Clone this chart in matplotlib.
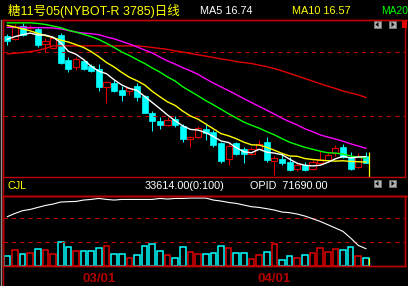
import matplotlib
matplotlib.use('Agg')
import matplotlib.pyplot as plt
from matplotlib.patches import Rectangle, Polygon

W, H = 408, 286

# daily bars, oldest first (price axis of the upper panel)
opens = [20.52, 20.41, 20.82, 20.77, 20.72, 20.26, 20.12, 20.54, 19.76, 19.55, 19.72, 19.57,
         19.47, 18.92, 19.05, 18.82, 18.78, 18.95, 18.63, 18.11, 17.84, 17.72, 17.91, 17.70,
         17.30, 17.34, 17.61, 17.51, 17.16, 16.66, 17.16, 16.97, 16.82, 16.99, 17.20, 16.61,
         16.67, 16.57, 16.34, 16.47, 16.34, 16.55, 16.63, 16.84, 17.05, 16.74, 16.41, 16.76]
closes = [20.36, 20.78, 20.53, 20.79, 20.23, 20.36, 20.44, 19.66, 19.47, 19.78, 19.49, 19.42,
          18.91, 19.07, 18.80, 18.68, 18.88, 18.61, 18.11, 17.86, 17.72, 17.88, 17.74, 17.28,
          17.34, 17.63, 17.47, 17.11, 16.61, 17.07, 16.82, 16.82, 16.99, 17.13, 16.63, 16.70,
          16.53, 16.32, 16.49, 16.32, 16.57, 16.63, 16.80, 17.01, 16.72, 16.36, 16.76, 16.55]
highs = [20.57, 20.88, 20.91, 20.85, 20.79, 20.44, 20.47, 20.60, 19.84, 19.84, 19.79, 19.63,
         19.63, 19.10, 19.13, 18.95, 18.93, 19.03, 18.67, 18.17, 17.99, 17.99, 18.01, 17.76,
         17.38, 17.70, 17.78, 17.57, 17.20, 17.13, 17.20, 17.05, 17.04, 17.26, 17.36, 16.76,
         16.84, 16.74, 16.55, 16.57, 16.63, 16.92, 16.86, 17.09, 17.13, 16.89, 16.84, 16.88]
lows = [20.23, 20.38, 20.50, 20.72, 20.17, 20.02, 20.10, 19.64, 19.39, 19.45, 19.45, 19.38,
        18.80, 18.42, 18.76, 18.49, 18.66, 18.49, 18.09, 17.53, 17.61, 17.70, 17.66, 17.21,
        17.05, 17.32, 17.26, 17.03, 16.55, 16.47, 16.79, 16.53, 16.79, 16.97, 16.57, 16.16,
        16.48, 16.29, 16.28, 16.29, 16.32, 16.54, 16.60, 16.76, 16.70, 16.32, 16.38, 16.54]

# moving averages as drawn on the chart
ma5 = [20.41, 20.49, 20.55, 20.60, 20.54, 20.54, 20.47, 20.30, 20.03, 19.94, 19.77, 19.56,
       19.41, 19.33, 19.14, 18.98, 18.87, 18.81, 18.62, 18.43, 18.24, 18.04, 17.86, 17.70,
       17.59, 17.57, 17.49, 17.37, 17.23, 17.18, 17.02, 16.89, 16.86, 16.97, 16.88, 16.85,
       16.80, 16.66, 16.53, 16.47, 16.45, 16.47, 16.56, 16.67, 16.75, 16.70, 16.73, 16.74]
ma10 = [20.84, 20.79, 20.73, 20.67, 20.59, 20.52, 20.46, 20.38, 20.32, 20.24, 20.15, 20.02,
        19.86, 19.68, 19.54, 19.37, 19.22, 19.11, 18.98, 18.78, 18.61, 18.45, 18.34, 18.16,
        18.01, 17.91, 17.76, 17.61, 17.46, 17.39, 17.30, 17.19, 17.11, 17.10, 17.03, 16.94,
        16.84, 16.76, 16.75, 16.68, 16.65, 16.63, 16.61, 16.60, 16.61, 16.59, 16.58, 16.57]
ma20 = [20.92, 20.92, 20.92, 20.92, 20.90, 20.87, 20.82, 20.77, 20.69, 20.63, 20.56, 20.49,
        20.40, 20.28, 20.15, 20.01, 19.90, 19.77, 19.65, 19.51, 19.38, 19.23, 19.10, 18.92,
        18.78, 18.64, 18.49, 18.36, 18.22, 18.08, 17.95, 17.82, 17.72, 17.63, 17.52, 17.42,
        17.30, 17.19, 17.11, 17.03, 16.97, 16.91, 16.86, 16.85, 16.82, 16.76, 16.72, 16.69]
ma30 = [20.78, 20.78, 20.78, 20.77, 20.77, 20.77, 20.76, 20.73, 20.68, 20.63, 20.60, 20.58,
        20.55, 20.48, 20.42, 20.34, 20.26, 20.17, 20.07, 19.98, 19.85, 19.73, 19.63, 19.52,
        19.42, 19.31, 19.17, 19.04, 18.92, 18.80, 18.68, 18.55, 18.43, 18.31, 18.19, 18.07,
        17.94, 17.83, 17.73, 17.61, 17.52, 17.42, 17.35, 17.29, 17.22, 17.14, 17.07, 17.00]
ma60 = [19.95, 19.97, 19.99, 20.02, 20.06, 20.12, 20.20, 20.20, 20.20, 20.20, 20.20, 20.20,
        20.20, 20.20, 20.20, 20.20, 20.20, 20.20, 20.18, 20.15, 20.12, 20.09, 20.04, 20.01,
        19.96, 19.92, 19.88, 19.84, 19.79, 19.76, 19.71, 19.68, 19.65, 19.60, 19.55, 19.49,
        19.42, 19.34, 19.26, 19.18, 19.10, 19.02, 18.94, 18.87, 18.79, 18.73, 18.67, 18.59]

# lower panel: volume bars and open interest line
volume = [42000, 67000, 50000, 56000, 70000, 67000, 50000, 101000, 78000, 62000, 62000, 62000,
          76000, 84000, 50000, 50000, 34000, 45000, 84000, 92000, 62000, 45000, 34000, 78000,
          59000, 50000, 50000, 53000, 84000, 76000, 53000, 53000, 28000, 45000, 59000, 92000,
          25000, 42000, 34000, 45000, 56000, 76000, 59000, 70000, 67000, 78000, 42000, 33614]
open_interest = [84500, 85800, 86900, 87400, 88200, 89000, 89550, 90350, 90500, 90600, 91150, 91400,
                 91800, 91400, 91150, 91400, 91400, 91400, 91400, 91400, 91800, 91550, 91800, 91800,
                 91950, 91950, 91950, 91150, 90750, 90200, 89800, 89150, 88500, 88200, 87700, 87150,
                 86350, 86100, 85550, 84750, 83700, 82600, 81300, 79950, 78600, 75950, 73000, 71690]
date_labels = ['03/01', '04/01']
date_pos = [12, 35]
price_grid = [18, 20]
volume_grid = [100000, 200000]

RED = '#e00000'
FRAME = '#c00000'
CYAN = '#00ffff'


def px_axes(fig, x0, y0, x1, y1):
    # axes placed by pixel box (top-left origin)
    return fig.add_axes([x0 / W, 1 - y1 / H, (x1 - x0) / W, (y1 - y0) / H])


def fig_text(fig, x, y, s, **kw):
    fig.text(x / W, 1 - y / H, s, va='center', ha='left', **kw)


def button(fig, x0, y0, left=True):
    fig.patches.append(Rectangle((x0 / W, 1 - (y0 + 7) / H), 7 / W, 7 / H,
                                 transform=fig.transFigure, facecolor='#b0b0b0',
                                 edgecolor='#808080', lw=0.5))
    if left:
        pts = [(x0 + 1.5, y0 + 3.5), (x0 + 4.5, y0 + 1), (x0 + 4.5, y0 + 6)]
    else:
        pts = [(x0 + 5.5, y0 + 3.5), (x0 + 2.5, y0 + 1), (x0 + 2.5, y0 + 6)]
    fig.patches.append(Polygon([(px / W, 1 - py / H) for px, py in pts], closed=True,
                               transform=fig.transFigure, facecolor='black', edgecolor='none'))


fig = plt.figure(figsize=(W / 100, H / 100), dpi=100, facecolor='black')

n = len(closes)
xs = list(range(n))
xlim = (-0.564, 52.12)

# ---- price panel
ax = px_axes(fig, 3, 20, 405, 177)
ax.set_facecolor('black')
ax.set_xlim(*xlim)
ax.set_ylim(16.103, 21.009)
for y in price_grid:
    ax.axhline(y, color=FRAME, lw=0.75, ls=(0, (4, 4)))

bw = 0.8
for i in xs:
    o, c, hi, lo = opens[i], closes[i], highs[i], lows[i]
    if c >= o:
        ax.vlines(i, c, hi, color=RED, lw=0.75)
        ax.vlines(i, lo, o, color=RED, lw=0.75)
        ax.add_patch(Rectangle((i - bw / 2, o), bw, max(c - o, 0.02), fill=False,
                               edgecolor=RED, lw=0.8))
    else:
        ax.vlines(i, lo, hi, color=CYAN, lw=0.75)
        ax.add_patch(Rectangle((i - bw / 2, c), bw, o - c, facecolor=CYAN,
                               edgecolor=CYAN, lw=0.5))

ax.plot(xs, ma60, color=RED, lw=1.0)
ax.plot(xs, ma30, color='#ff00ff', lw=1.0)
ax.plot(xs, ma20, color='#00ff00', lw=1.0)
ax.plot(xs, ma10, color='#ffff00', lw=1.0)
ax.plot(xs, ma5, color='white', lw=1.0)

# cursor on the last bar
ax.vlines(n - 1 + 0.45, 16.103, highs[-1], color='#ffff00', lw=0.9)

ax.set_xticks([])
ax.set_yticks([])
for s in ax.spines.values():
    s.set_color(FRAME)
    s.set_linewidth(1.0)

# ---- volume panel
axv = px_axes(fig, 3, 196, 405, 266)
axv.set_facecolor('black')
axv.set_xlim(*xlim)
axv.set_ylim(0, 294000)
for y in volume_grid:
    axv.axhline(y, color=FRAME, lw=0.75, ls=(0, (4, 4)))
vcols = [RED if closes[i] >= opens[i] else CYAN for i in xs]
axv.bar(xs, volume, width=0.74, fill=False, edgecolor=vcols, lw=1.1)
axv.vlines(n - 1 + 0.45, 0, volume[-1], color='#ffff00', lw=0.9)

axo = axv.twinx()
axo.set_ylim(64770, 92770)
axo.plot(xs, open_interest, color='white', lw=0.8)
axo.set_yticks([])

axv.set_yticks([])
axv.set_xticks(date_pos)
axv.set_xticklabels(date_labels, fontsize=9.5, fontweight='bold', color='#b00000',
                    family='Liberation Sans')
axv.tick_params(axis='x', length=0, pad=5)
for a in (axv, axo):
    for s in a.spines.values():
        s.set_color(FRAME)
        s.set_linewidth(1.0)

# frame lines outside the panels
fig.add_artist(plt.Line2D([3 / W, 1], [1 - 196 / H] * 2, color=FRAME, lw=1.0))
fig.add_artist(plt.Line2D([3 / W, 1], [1 - 20 / H] * 2, color=FRAME, lw=1.0))
fig.add_artist(plt.Line2D([3 / W] * 2, [1 - 286 / H, 1 - 20 / H], color=FRAME, lw=1.0))
fig.add_artist(plt.Line2D([0.6 / W] * 2, [0, 1 - 20 / H], color='#909090', lw=1.0))

# header texts
fig_text(fig, 8, 10.5, '糖11号05(NYBOT-R 3785)日线', color='#ffff00', fontsize=9,
         family=['Liberation Sans', 'Noto Sans CJK SC'])
fig_text(fig, 200, 11, 'MA5 16.74', color='white', fontsize=7.8, family='Liberation Sans')
fig_text(fig, 292, 11, 'MA10 16.57', color='#ffff00', fontsize=7.8, family='Liberation Sans')
fig_text(fig, 381, 11, 'MA20', color='#00ff00', fontsize=7.4, family='Liberation Sans')

fig_text(fig, 8, 186, 'CJL', color='#ffff00', fontsize=7.8, family='Liberation Sans')
fig_text(fig, 145, 186, '33614.00(0:100)', color='white', fontsize=7.8, family='Liberation Sans')
fig_text(fig, 250, 186, 'OPID  71690.00', color='white', fontsize=7.8, family='Liberation Sans')

button(fig, 374, 21, True)
button(fig, 389, 21, False)
button(fig, 374, 180, True)
button(fig, 389, 180, False)
fig.patches.append(Rectangle((402 / W, 1 - 28 / H), 5 / W, 8 / H, transform=fig.transFigure,
                             facecolor=RED, edgecolor='none'))

fig.savefig('out.png', dpi=100, facecolor='black')
